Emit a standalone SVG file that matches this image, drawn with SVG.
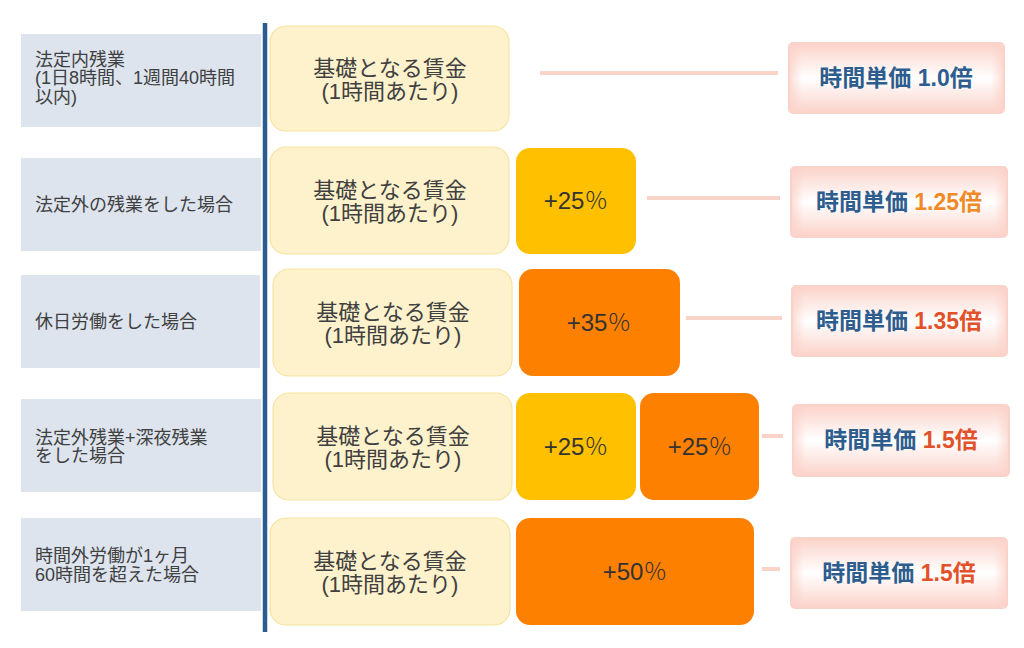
<svg xmlns="http://www.w3.org/2000/svg" width="1024" height="648" viewBox="0 0 1024 648">
<defs>
<linearGradient id="pinkV" x1="0" y1="0" x2="0" y2="1">
<stop offset="0" stop-color="#fbd2c9"/>
<stop offset="0.5" stop-color="#ffffff"/>
<stop offset="1" stop-color="#fbd2c9"/>
</linearGradient>
<linearGradient id="pinkH" x1="0" y1="0" x2="1" y2="0">
<stop offset="0" stop-color="#fbd2c9" stop-opacity="0.8"/>
<stop offset="0.06" stop-color="#fbd2c9" stop-opacity="0"/>
<stop offset="0.94" stop-color="#fbd2c9" stop-opacity="0"/>
<stop offset="1" stop-color="#fbd2c9" stop-opacity="0.8"/>
</linearGradient>
</defs>
<style>
text{font-family:"Liberation Sans","Noto Sans CJK JP",sans-serif;}
.lbl{fill:#dde4ee;}
.lt{font-size:18px;fill:#404040;}
.base{fill:#fdf2cc;stroke:#f6e3a2;stroke-width:1.2;}
.bt{font-size:22px;fill:#404040;text-anchor:middle;}
.y{fill:#ffc000;}
.o{fill:#fe8000;}
.pt{font-size:24px;fill:#333333;text-anchor:middle;}
.pc{font-family:"Noto Sans CJK JP",sans-serif;font-weight:300;}
.res{fill:url(#pinkV);stroke:#f9d3ca;stroke-width:2;}
.resh{fill:url(#pinkH);}
.rt{font-size:23px;font-weight:bold;fill:#2d5d8e;text-anchor:middle;}
.n1{fill:#2d5d8e;}
.n2{fill:#f08a28;}
.n3{fill:#e2522a;}
.conn{stroke:#f9d3c8;stroke-width:4;fill:none;}
</style>
<rect x="0" y="0" width="1024" height="648" fill="#ffffff"/>

<g id="connectors">
<line class="conn" x1="540" y1="73" x2="778" y2="73"/>
<line class="conn" x1="647" y1="198" x2="780" y2="198"/>
<line class="conn" x1="686" y1="318" x2="782" y2="318"/>
<line class="conn" x1="762" y1="436" x2="783" y2="436"/>
<line class="conn" x1="762" y1="569" x2="780" y2="569"/>
</g>

<g id="axis">
<line x1="265" y1="23" x2="265" y2="632" stroke="#2b5b91" stroke-width="4.5"/>
</g>

<g id="label1">
<rect class="lbl" x="21" y="34" width="240" height="93"/>
<text class="lt" x="35" y="66">法定内残業</text>
<text class="lt" x="35" y="84">(1日8時間、1週間40時間</text>
<text class="lt" x="35" y="103">以内)</text>
</g>
<g id="label2">
<rect class="lbl" x="21" y="158" width="240" height="93"/>
<text class="lt" x="35" y="211">法定外の残業をした場合</text>
</g>
<g id="label3">
<rect class="lbl" x="21" y="275" width="239" height="93"/>
<text class="lt" x="35" y="328">休日労働をした場合</text>
</g>
<g id="label4">
<rect class="lbl" x="21" y="399" width="240" height="93"/>
<text class="lt" x="35" y="444">法定外残業+深夜残業</text>
<text class="lt" x="35" y="462">をした場合</text>
</g>
<g id="label5">
<rect class="lbl" x="21" y="518" width="240" height="93"/>
<text class="lt" x="35" y="562">時間外労働が1ヶ月</text>
<text class="lt" x="35" y="581">60時間を超えた場合</text>
</g>

<g id="base1">
<rect class="base" x="270" y="26" width="239" height="105" rx="16"/>
<text class="bt" x="390" y="76">基礎となる賃金</text>
<text class="bt" x="390" y="99">(1時間あたり)</text>
</g>
<g id="base2">
<rect class="base" x="270" y="147" width="239" height="107" rx="16"/>
<text class="bt" x="390" y="198">基礎となる賃金</text>
<text class="bt" x="390" y="221">(1時間あたり)</text>
</g>
<g id="base3">
<rect class="base" x="273" y="269" width="239" height="107" rx="16"/>
<text class="bt" x="393" y="320">基礎となる賃金</text>
<text class="bt" x="393" y="343">(1時間あたり)</text>
</g>
<g id="base4">
<rect class="base" x="273" y="393" width="239" height="107" rx="16"/>
<text class="bt" x="393" y="444">基礎となる賃金</text>
<text class="bt" x="393" y="467">(1時間あたり)</text>
</g>
<g id="base5">
<rect class="base" x="270" y="518" width="240" height="107" rx="16"/>
<text class="bt" x="390" y="569">基礎となる賃金</text>
<text class="bt" x="390" y="592">(1時間あたり)</text>
</g>

<g id="add2">
<rect class="y" x="516" y="148" width="120" height="106" rx="14"/>
<text class="pt" x="576" y="209">+25<tspan class="pc">％</tspan></text>
</g>
<g id="add3">
<rect class="o" x="519" y="269" width="161" height="107" rx="14"/>
<text class="pt" x="599" y="331">+35<tspan class="pc">％</tspan></text>
</g>
<g id="add4a">
<rect class="y" x="516" y="393" width="120" height="107" rx="14"/>
<text class="pt" x="576" y="455">+25<tspan class="pc">％</tspan></text>
</g>
<g id="add4b">
<rect class="o" x="640" y="393" width="119" height="107" rx="14"/>
<text class="pt" x="700" y="455">+25<tspan class="pc">％</tspan></text>
</g>
<g id="add5">
<rect class="o" x="516" y="518" width="238" height="107" rx="14"/>
<text class="pt" x="635" y="580">+50<tspan class="pc">％</tspan></text>
</g>

<g id="result1">
<rect class="res" x="789" y="43" width="215" height="70" rx="4"/>
<rect class="resh" x="789" y="43" width="215" height="70" rx="4"/>
<text class="rt" x="896" y="86">時間単価 <tspan class="n1">1.0倍</tspan></text>
</g>
<g id="result2">
<rect class="res" x="791" y="167" width="216" height="70" rx="4"/>
<rect class="resh" x="791" y="167" width="216" height="70" rx="4"/>
<text class="rt" x="899" y="210">時間単価 <tspan class="n2">1.25倍</tspan></text>
</g>
<g id="result3">
<rect class="res" x="792" y="286" width="215" height="70" rx="4"/>
<rect class="resh" x="792" y="286" width="215" height="70" rx="4"/>
<text class="rt" x="899" y="329">時間単価 <tspan class="n3">1.35倍</tspan></text>
</g>
<g id="result4">
<rect class="res" x="793" y="405" width="216" height="71" rx="4"/>
<rect class="resh" x="793" y="405" width="216" height="71" rx="4"/>
<text class="rt" x="901" y="448">時間単価 <tspan class="n3">1.5倍</tspan></text>
</g>
<g id="result5">
<rect class="res" x="791" y="538" width="216" height="70" rx="4"/>
<rect class="resh" x="791" y="538" width="216" height="70" rx="4"/>
<text class="rt" x="899" y="581">時間単価 <tspan class="n3">1.5倍</tspan></text>
</g>
</svg>
